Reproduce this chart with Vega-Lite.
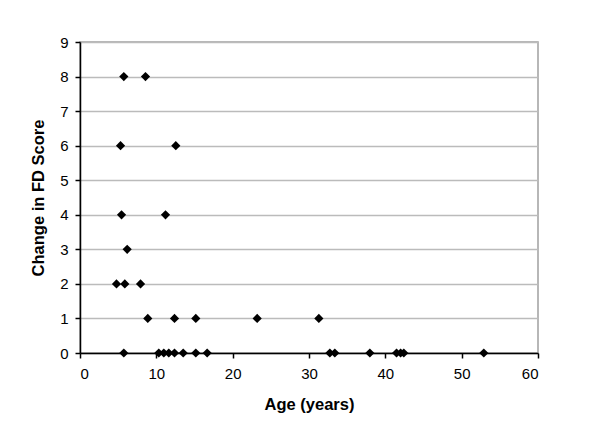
{
  "$schema": "https://vega.github.io/schema/vega-lite/v6.json",
  "autosize": "none",
  "width": 458,
  "height": 311,
  "padding": {"left": 80, "top": 42, "right": 63, "bottom": 92},
  "background": "white",
  "config": {
    "view": {"stroke": "#a0a0a0", "strokeWidth": 1.5},
    "font": "Liberation Sans"
  },
  "data": {
    "values": [
      {"age": 5.74, "change": 8}, {"age": 8.58, "change": 8},
      {"age": 5.31, "change": 6}, {"age": 12.55, "change": 6},
      {"age": 5.44, "change": 4}, {"age": 11.2, "change": 4},
      {"age": 6.18, "change": 3},
      {"age": 4.78, "change": 2}, {"age": 5.87, "change": 2}, {"age": 7.93, "change": 2},
      {"age": 8.88, "change": 1}, {"age": 12.38, "change": 1}, {"age": 15.17, "change": 1}, {"age": 23.21, "change": 1}, {"age": 31.29, "change": 1},
      {"age": 5.74, "change": 0}, {"age": 10.32, "change": 0}, {"age": 10.98, "change": 0}, {"age": 11.63, "change": 0}, {"age": 12.38, "change": 0}, {"age": 13.52, "change": 0}, {"age": 15.17, "change": 0}, {"age": 16.66, "change": 0},
      {"age": 32.73, "change": 0}, {"age": 33.38, "change": 0}, {"age": 37.97, "change": 0}, {"age": 41.47, "change": 0}, {"age": 42.0, "change": 0}, {"age": 42.42, "change": 0}, {"age": 52.9, "change": 0}
    ]
  },
  "mark": {"type": "point", "shape": "diamond", "filled": true, "color": "black", "opacity": 1, "size": 85},
  "encoding": {
    "x": {
      "field": "age", "type": "quantitative",
      "scale": {"domain": [0, 60], "nice": false, "zero": true},
      "axis": {
        "title": "Age (years)", "values": [0, 10, 20, 30, 40, 50, 60],
        "grid": false, "domainColor": "black", "domainWidth": 1.5,
        "tickColor": "black", "tickSize": 5, "tickWidth": 1.5,
        "labelFont": "Liberation Sans", "labelFontSize": 15, "labelColor": "black", "labelPadding": 8,
        "titleFont": "Liberation Sans", "titleFontSize": 16.5, "titleFontWeight": "bold", "titleColor": "black", "titlePadding": 15
      }
    },
    "y": {
      "field": "change", "type": "quantitative",
      "scale": {"domain": [0, 9], "nice": false},
      "axis": {
        "title": "Change in FD Score", "values": [0, 1, 2, 3, 4, 5, 6, 7, 8, 9],
        "grid": true, "gridColor": "#bbbbbb", "gridWidth": 1.5,
        "domainColor": "black", "domainWidth": 1.5,
        "tickColor": "black", "tickSize": 5, "tickWidth": 1.5,
        "labelFont": "Liberation Sans", "labelFontSize": 15, "labelColor": "black", "labelPadding": 7,
        "titleFont": "Liberation Sans", "titleFontSize": 16.5, "titleFontWeight": "bold", "titleColor": "black", "titlePadding": 13
      }
    }
  }
}
